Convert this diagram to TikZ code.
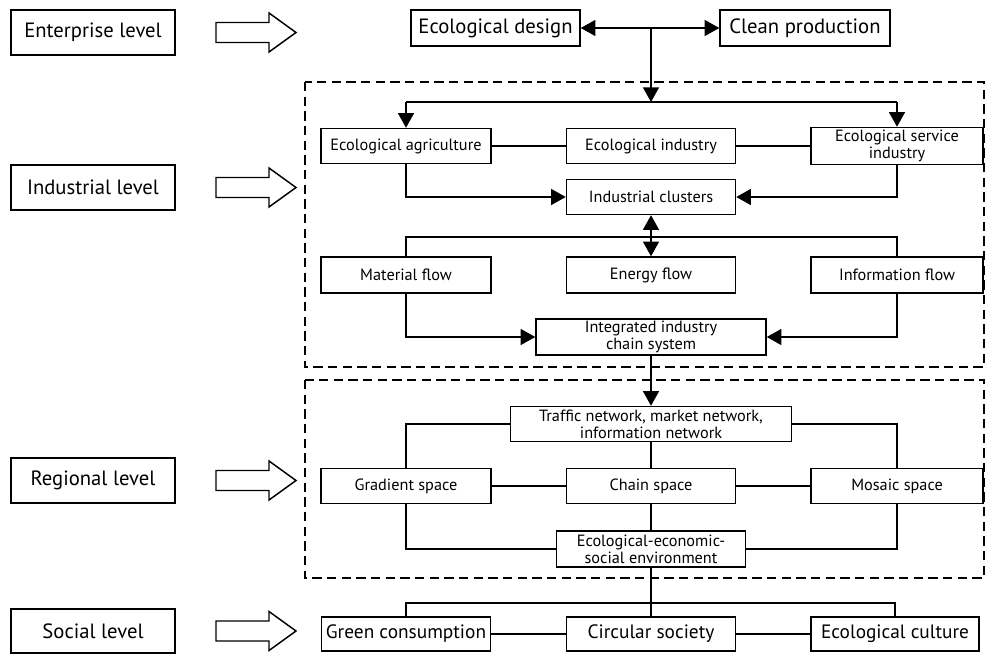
\documentclass[tikz,border=0pt]{standalone}
\usepackage{fontspec}
\setmainfont{PT Sans}
\usetikzlibrary{arrows.meta,calc}
\begin{document}
\begin{tikzpicture}[x=0.75pt,y=-0.75pt,
  bx/.style={draw, line width=1.1pt, inner sep=0pt, align=center},
  sz/.style 2 args={minimum width=#1*0.75pt, minimum height=#2*0.75pt},
  lvl/.style={bx, font=\fontsize{15.5}{18}\selectfont},
  top/.style={bx, font=\fontsize{15.5}{18}\selectfont},
  soc/.style={bx, font=\fontsize{14.5}{17}\selectfont},
  sml/.style={bx, font=\fontsize{12.2}{12.6}\selectfont},
  ln/.style={draw, line width=1.1pt},
  arr/.style={ln, -{Triangle[length=11pt,width=12pt]}},
  darr/.style={ln, {Triangle[length=11pt,width=12pt]}-{Triangle[length=11pt,width=12pt]}},
  dbox/.style={draw, line width=1.1pt, dash pattern=on 7pt off 4pt},
  blk/.style={draw, line width=1.1pt, fill=white, line join=miter}
]
\useasboundingbox (0,0) rectangle (985,656);

% dashed frames
\draw[dbox] (305,82) rectangle (984,367);
\draw[dbox] (305,380) rectangle (984,578);

% level boxes
\node[lvl, sz={164}{45}] (lev1) at (93,32.5) {Enterprise level};
\node[lvl, sz={164}{45}] (lev2) at (93,187.5) {Industrial level};
\node[lvl, sz={164}{45}] (lev3) at (93,480.5) {Regional level};
\node[lvl, sz={164}{44}] (lev4) at (93,631) {Social level};

% block arrows
\foreach \c in {32.5,187.5,480.5,631}{
  \draw[blk] (216,\c-10) -- (269,\c-10) -- (269,\c-19.5) -- (296,\c) -- (269,\c+19.5) -- (269,\c+10) -- (216,\c+10) -- cycle;
}

% enterprise level
\node[top, sz={169}{36}] (ed) at (495.5,28) {Ecological design};
\node[top, sz={170}{36}] (cp) at (805,28) {Clean production};
\coordinate (j0) at (651,28);
\coordinate (j1) at (651,102);
\draw[darr] (ed.east) -- (cp.west);
\draw[arr] (j0) -- (j1);

% industrial level
\node[sml, sz={170}{35}] (ea) at (406,146) {Ecological agriculture};
\node[sml, sz={169}{35}] (ei) at (651,146) {Ecological industry};
\node[sml, sz={172}{37}] (esi) at (897,146) {Ecological service\\industry};
\coordinate (h1l) at (406,102);
\coordinate (h1r) at (897,102);
\draw[ln] (h1l) -- (h1r);
\draw[arr] (h1l) -- (ea.north);
\draw[arr] (h1r) -- (esi.north);
\draw[ln] (ea) -- (ei);
\draw[ln] (ei) -- (esi);

\node[sml, sz={169}{35}] (ic) at (651,197) {Industrial clusters};
\draw[arr] (ea.south) |- (ic.west);
\draw[arr] (esi.south) |- (ic.east);

\node[sml, sz={170}{36}] (mf) at (406,275) {Material flow};
\node[sml, sz={169}{36}] (ef) at (651,275) {Energy flow};
\node[sml, sz={172}{36}] (inf) at (897,275) {Information flow};
\coordinate (h2l) at (406,237);
\coordinate (h2r) at (897,237);
\draw[darr] (ic.south) -- (ef.north);
\draw[ln] (mf.north) -- (h2l) -- (h2r) -- (inf.north);

\node[sml, sz={230}{36}] (iics) at (651,337) {Integrated industry\\chain system};
\draw[arr] (mf.south) |- (iics.west);
\draw[arr] (inf.south) |- (iics.east);

% regional level
\node[sml, sz={281}{35}] (tn) at (651,424) {Traffic network, market network,\\information network};
\draw[arr] (iics.south) -- (tn.north);
\node[sml, sz={170}{35}] (gs) at (406,486) {Gradient space};
\node[sml, sz={169}{35}] (cs) at (651,486) {Chain space};
\node[sml, sz={172}{35}] (ms) at (897,486) {Mosaic space};
\draw[ln] (tn.west) -| (gs.north);
\draw[ln] (tn.east) -| (ms.north);
\draw[ln] (tn.south) -- (cs.north);
\draw[ln] (gs) -- (cs);
\draw[ln] (cs) -- (ms);

\node[sml, sz={189}{36}] (ees) at (651,549) {Ecological-economic-\\social environment};
\draw[ln] (gs.south) |- (ees.west);
\draw[ln] (ms.south) |- (ees.east);
\draw[ln] (cs.south) -- (ees.north);

% social level
\node[soc, sz={169}{34}] (gc) at (406,634) {Green consumption};
\node[soc, sz={169}{34}] (cs2) at (651,634) {Circular society};
\node[soc, sz={168}{34}] (ec) at (895,634) {Ecological culture};
\coordinate (h3l) at (406,603);
\coordinate (h3r) at (895,603);
\draw[ln] (gc.north) -- (h3l) -- (h3r) -- (ec.north);
\draw[ln] (ees.south) -- (cs2.north);
\draw[ln] (gc) -- (cs2);
\draw[ln] (cs2) -- (ec);
\end{tikzpicture}
\end{document}
